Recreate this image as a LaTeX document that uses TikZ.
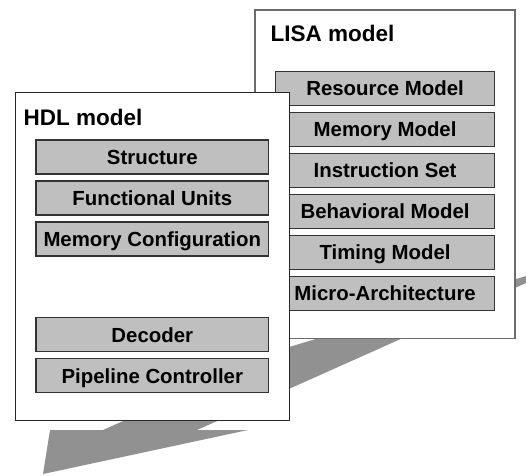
\documentclass[tikz,border=0pt]{standalone}
\usepackage{fontspec}
\setmainfont{Liberation Sans}
\begin{document}
\begin{tikzpicture}[x=1pt,y=-1pt,
  outerbox/.style={draw=#1,fill=white,line width=1.2pt},
  part/.style={draw=black!80,fill=black!25,line width=1.2pt,
    minimum height=34pt,inner sep=0pt,text height=14.6pt,text depth=0pt,
    font=\fontsize{20.4pt}{22pt}\selectfont\bfseries},
  title/.style={anchor=base west,inner sep=0pt,font=\fontsize{22.5pt}{24pt}\selectfont\bfseries},
  arrowshape/.style={fill=black!43,draw=none}]
\useasboundingbox (0,0) rectangle (526,475);
% big perspective arrow in the background
\fill[arrowshape] (526,276) -- (526,283) -- (197,430) -- (248,430) -- (43,474)
  -- (50,430) -- (103,430) -- (289,347) -- cycle;
% LISA model
\draw[outerbox=black!58] (255,10) rectangle (515,338.3);
\node[title] (lisa) at (270.5,41.7) {LISA model};
\foreach \n/\t [count=\i from 0] in {res/Resource Model,mem/Memory Model,ins/Instruction Set,beh/Behavioral Model,tim/Timing Model,mic/Micro-Architecture}{
  \node[part,minimum width=218.8pt] (\n) at (385.1,88.3+41*\i) {\t};
}
% HDL model
\draw[outerbox=black!85] (15.4,92.7) rectangle (289.2,420.5);
\node[title] (hdl) at (23.4,125.7) {HDL model};
\node[part,minimum width=232.8pt] (str) at (152.3,157) {Structure};
\node[part,minimum width=232.8pt] (fun) at (152.3,198) {Functional Units};
\node[part,minimum width=232.8pt] (mcf) at (152.3,239) {Memory Configuration};
\node[part,minimum width=232.8pt] (dec) at (152.3,334.7) {Decoder};
\node[part,minimum width=232.8pt] (pip) at (152.3,375.7) {Pipeline Controller};
\end{tikzpicture}
\end{document}
